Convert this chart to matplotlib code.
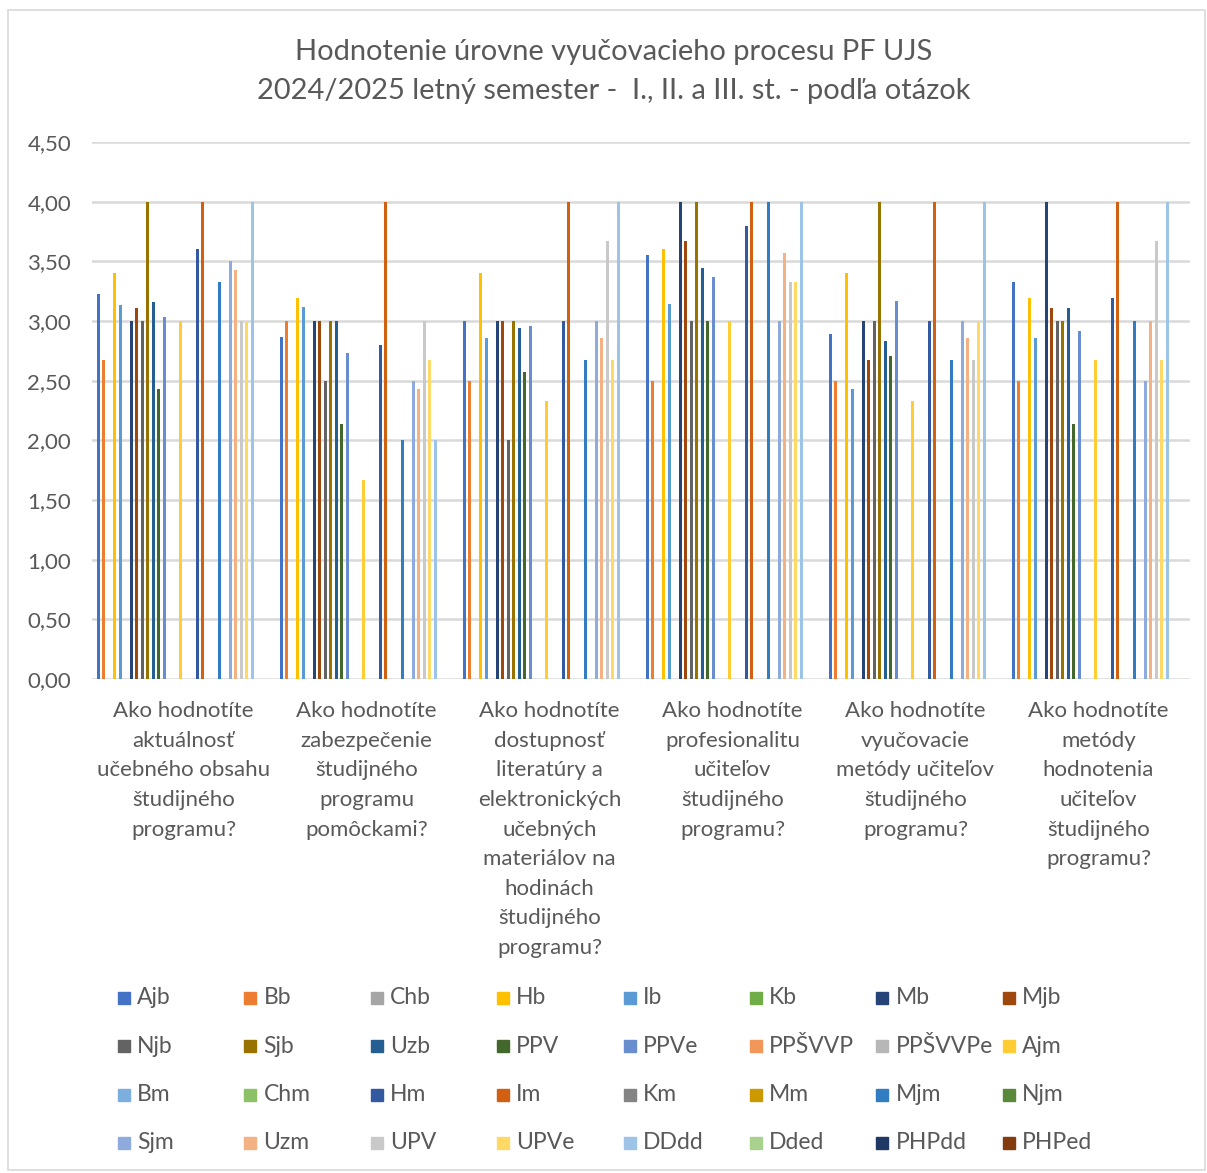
import numpy as np
import matplotlib
matplotlib.use("Agg")
import matplotlib.pyplot as plt
from matplotlib.patches import Rectangle
from matplotlib.ticker import FuncFormatter

plt.rcParams['font.family'] = ['Lato', 'DejaVu Sans']

questions = [
    "Ako hodnotíte\naktuálnosť\nučebného obsahu\nštudijného\nprogramu?",
    "Ako hodnotíte\nzabezpečenie\nštudijného\nprogramu\npomôckami?",
    "Ako hodnotíte\ndostupnosť\nliteratúry a\nelektronických\nučebných\nmateriálov na\nhodinách\nštudijného\nprogramu?",
    "Ako hodnotíte\nprofesionalitu\nučiteľov\nštudijného\nprogramu?",
    "Ako hodnotíte\nvyučovacie\nmetódy učiteľov\nštudijného\nprogramu?",
    "Ako hodnotíte\nmetódy\nhodnotenia\nučiteľov\nštudijného\nprogramu?",
]

series = ["Ajb", "Bb", "Chb", "Hb", "Ib", "Kb", "Mb", "Mjb",
          "Njb", "Sjb", "Uzb", "PPV", "PPVe", "PPŠVVP", "PPŠVVPe", "Ajm",
          "Bm", "Chm", "Hm", "Im", "Km", "Mm", "Mjm", "Njm",
          "Sjm", "Uzm", "UPV", "UPVe", "DDdd", "Dded", "PHPdd", "PHPed"]

colors = ["#4472C4", "#ED7D31", "#A5A5A5", "#FFC000", "#5B9BD5", "#70AD47", "#264478", "#9E480E",
          "#636363", "#997300", "#255E91", "#43682B", "#698ED0", "#F1975A", "#B7B7B7", "#FFCD33",
          "#7CAFDD", "#8CC168", "#335AA1", "#D26012", "#848484", "#CC9A00", "#327DC2", "#5A8A39",
          "#8FAADC", "#F4B183", "#C9C9C9", "#FFD966", "#9DC3E6", "#A9D18E", "#203864", "#843C0C"]

# values per series, one entry per question (0 = no answer)
Ajb     = [3.23, 2.87, 3.00, 3.55, 2.89, 3.33]
Bb      = [2.67, 3.00, 2.50, 2.50, 2.50, 2.50]
Chb     = [0, 0, 0, 0, 0, 0]
Hb      = [3.40, 3.19, 3.40, 3.60, 3.40, 3.19]
Ib      = [3.13, 3.12, 2.86, 3.14, 2.43, 2.86]
Kb      = [0, 0, 0, 0, 0, 0]
Mb      = [3.00, 3.00, 3.00, 4.00, 3.00, 4.00]
Mjb     = [3.11, 3.00, 3.00, 3.67, 2.67, 3.11]
Njb     = [3.00, 2.50, 2.00, 3.00, 3.00, 3.00]
Sjb     = [4.00, 3.00, 3.00, 4.00, 4.00, 3.00]
Uzb     = [3.16, 3.00, 2.94, 3.44, 2.83, 3.11]
PPV     = [2.43, 2.14, 2.57, 3.00, 2.71, 2.14]
PPVe    = [3.03, 2.73, 2.96, 3.37, 3.17, 2.92]
PPSVVP  = [0, 0, 0, 0, 0, 0]
PPSVVPe = [0, 0, 0, 0, 0, 0]
Ajm     = [3.00, 1.67, 2.33, 3.00, 2.33, 2.67]
Bm      = [0, 0, 0, 0, 0, 0]
Chm     = [0, 0, 0, 0, 0, 0]
Hm      = [3.60, 2.80, 3.00, 3.80, 3.00, 3.19]
Im      = [4.00, 4.00, 4.00, 4.00, 4.00, 4.00]
Km      = [0, 0, 0, 0, 0, 0]
Mm      = [0, 0, 0, 0, 0, 0]
Mjm     = [3.33, 2.00, 2.67, 4.00, 2.67, 3.00]
Njm     = [0, 0, 0, 0, 0, 0]
Sjm     = [3.50, 2.50, 3.00, 3.00, 3.00, 2.50]
Uzm     = [3.43, 2.43, 2.86, 3.57, 2.86, 3.00]
UPV     = [3.00, 3.00, 3.67, 3.33, 2.67, 3.67]
UPVe    = [3.00, 2.67, 2.67, 3.33, 3.00, 2.67]
DDdd    = [4.00, 2.00, 4.00, 4.00, 4.00, 4.00]
Dded    = [0, 0, 0, 0, 0, 0]
PHPdd   = [0, 0, 0, 0, 0, 0]
PHPed   = [0, 0, 0, 0, 0, 0]

values = [Ajb, Bb, Chb, Hb, Ib, Kb, Mb, Mjb, Njb, Sjb, Uzb, PPV, PPVe, PPSVVP, PPSVVPe, Ajm,
          Bm, Chm, Hm, Im, Km, Mm, Mjm, Njm, Sjm, Uzm, UPV, UPVe, DDdd, Dded, PHPdd, PHPed]

txt = "#595959"
grid = "#D9D9D9"
fs = 16

fig = plt.figure(figsize=(12.07, 11.73), dpi=100)
fig.patches.append(Rectangle((8 / 1207, 1 - 1170 / 1173), 1197 / 1207, 1160 / 1173,
                             transform=fig.transFigure, fill=False, ec=grid, lw=1.2))

ax = fig.add_axes([92 / 1207, 1 - 679 / 1173, 1098 / 1207, 537 / 1173])
x = np.arange(len(questions))
n = len(series)
step = 0.03
for j, (name, vals) in enumerate(zip(series, values)):
    ax.bar(x + (j - (n - 1) / 2) * step, vals, width=step * 0.58, color=colors[j],
           label=name, zorder=3)

ax.set_xlim(-0.5, len(questions) - 0.5)
ax.set_ylim(0, 4.5)
ax.set_yticks(np.arange(0, 4.51, 0.5))
ax.yaxis.set_major_formatter(FuncFormatter(lambda v, p: f"{v:.2f}".replace(".", ",")))
ax.grid(axis='y', color=grid, lw=1.8, zorder=0)
for s in ax.spines.values():
    s.set_visible(False)
ax.tick_params(axis='y', length=0, labelsize=fs, labelcolor=txt, pad=15)
ax.set_xticks(x)
ax.set_xticklabels(questions, fontsize=fs, color=txt, linespacing=1.6, va='top')
ax.tick_params(axis='x', length=0, pad=16)

fig.text(614 / 1207, 1 - 52 / 1173, "Hodnotenie úrovne vyučovacieho procesu PF UJS",
         ha='center', va='center', fontsize=20.9, color=txt)
fig.text(614 / 1207, 1 - 91 / 1173, "2024/2025 letný semester -  I., II. a III. st. - podľa otázok",
         ha='center', va='center', fontsize=20.9, color=txt)

# legend, 8 columns x 4 rows
for j, name in enumerate(series):
    r, c = divmod(j, 8)
    xs = 118 + 126.4 * c
    ys = 998 + 48.3 * r
    fig.patches.append(Rectangle((xs / 1207, 1 - (ys + 6) / 1173), 12 / 1207, 12 / 1173,
                                 transform=fig.transFigure, color=colors[j]))
    fig.text((xs + 19) / 1207, 1 - ys / 1173, name, ha='left', va='center',
             fontsize=16.5, color=txt)

fig.savefig("out.png", dpi=100, facecolor="white")
